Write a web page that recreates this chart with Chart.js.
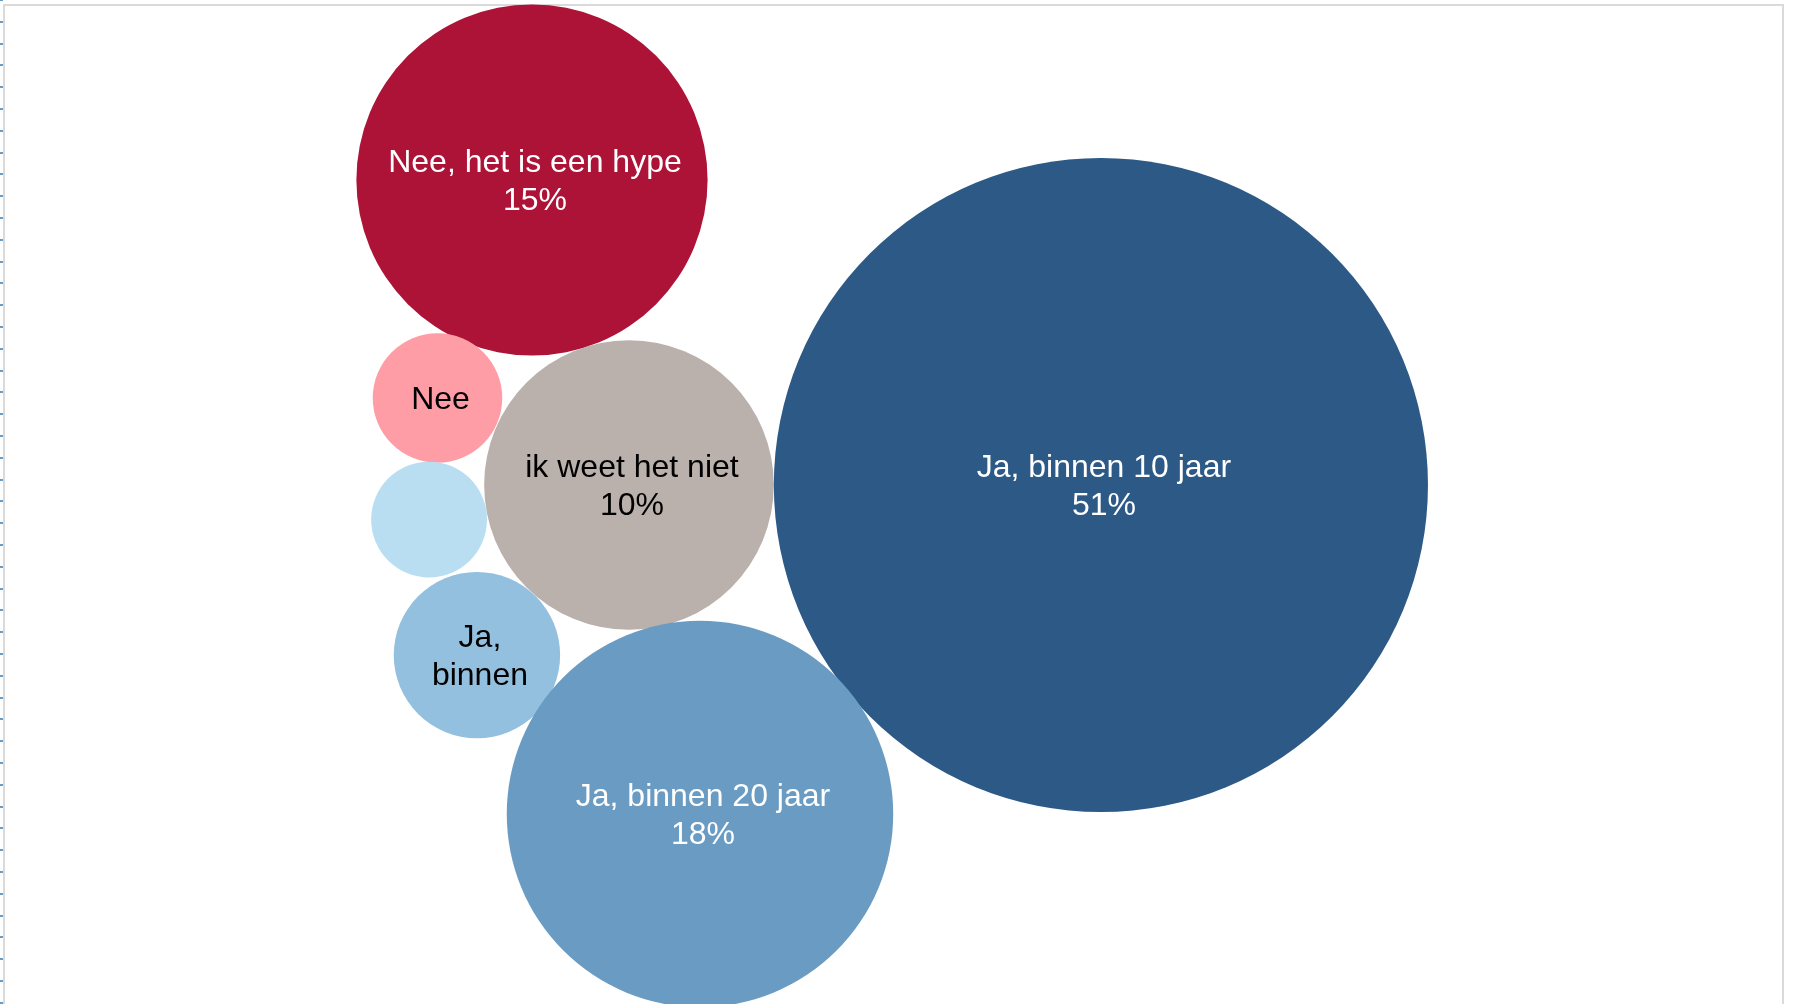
<!DOCTYPE html>
<html>
<head>
<meta charset="utf-8">
<script src="https://cdn.jsdelivr.net/npm/chart.js@4/dist/chart.umd.min.js"></script>
<style>
  html, body { margin: 0; padding: 0; background: #fff; overflow: hidden; }
  #wrap { width: 1793px; height: 1004px; position: relative; }
</style>
</head>
<body>
<div id="wrap"><canvas id="bubbles"></canvas></div>
<script>
// Antwoorden en aandeel (%)
const categories = ['Nee, het is een hype', 'Nee', 'Ja, binnen 50 jaar', 'Ja, binnen 30 jaar', 'ik weet het niet', 'Ja, binnen 10 jaar', 'Ja, binnen 20 jaar'];
const shares = [14.7, 2, 1.6, 3.3, 10, 51, 17.8];
// positie van elke bel (x 0-100, y 0-56)
const xPos = [29.67, 24.40, 23.93, 26.60, 35.08, 61.40, 39.04];
const yPos = [45.96, 33.80, 27.02, 19.46, 28.95, 28.95, 10.60];
// tekst in de bel (wat Excel liet zien)
const bubbleLabels = [
    ['Nee, het is een hype', '15%'],
    ['Nee'],
    [],
    ['Ja,', 'binnen'],
    ['ik weet het niet', '10%'],
    ['Ja, binnen 10 jaar', '51%'],
    ['Ja, binnen 20 jaar', '18%']
];
const colours = ['#ad1237', '#ff9da6', '#badef1', '#93c0df', '#bab0ac', '#2c5985', '#6a9bc3'];
const textColours = ['#ffffff', '#000000', '#000000', '#000000', '#000000', '#ffffff', '#ffffff'];

const PX_PER_SQRT_PCT = 45.8; // oppervlak van de bel ~ aandeel

const framePlugin = {
    id: 'frame',
    beforeDatasetsDraw(chart) {
        const c = chart.ctx;
        const w = chart.width, h = chart.height;
        c.save();
        c.strokeStyle = '#dadada';
        c.lineWidth = 2;
        c.beginPath();
        c.moveTo(4, h);
        c.lineTo(4, 5);
        c.lineTo(w - 10, 5);
        c.lineTo(w - 10, h);
        c.stroke();
        // kleine blauwe streepjes links
        c.fillStyle = '#6a9bc3';
        for (let y = 0; y < h + 2; y += 21.8) {
            c.fillRect(0, Math.round(y) - 1, 3, 2);
        }
        c.restore();
    }
};

const labelPlugin = {
    id: 'bubbleText',
    afterDatasetsDraw(chart) {
        const c = chart.ctx;
        const meta = chart.getDatasetMeta(0);
        c.save();
        c.font = '32px "Liberation Sans", Arial, sans-serif';
        c.textAlign = 'center';
        c.textBaseline = 'middle';
        const lh = 38;
        meta.data.forEach((el, i) => {
            const lines = bubbleLabels[i];
            c.fillStyle = textColours[i];
            const top = el.y + 2 - (lines.length - 1) * lh / 2;
            lines.forEach((t, j) => c.fillText(t, el.x + 3, top + j * lh));
        });
        c.restore();
    }
};

const points = categories.map((name, i) => ({
    x: xPos[i],
    y: yPos[i],
    r: Math.sqrt(shares[i]) * PX_PER_SQRT_PCT
}));

new Chart(document.getElementById('bubbles').getContext('2d'), {
    type: 'bubble',
    data: {
        labels: categories,
        datasets: [{
            data: points,
            backgroundColor: colours,
            borderWidth: 0,
            clip: false
        }]
    },
    options: {
        responsive: true,
        maintainAspectRatio: false,
        animation: false,
        events: [],
        layout: { padding: 0, autoPadding: false },
        plugins: { legend: { display: false }, tooltip: { enabled: false } },
        scales: {
            x: { min: 0, max: 100, display: false },
            y: { min: 0, max: 56, display: false }
        }
    },
    plugins: [framePlugin, labelPlugin]
});
</script>
</body>
</html>
